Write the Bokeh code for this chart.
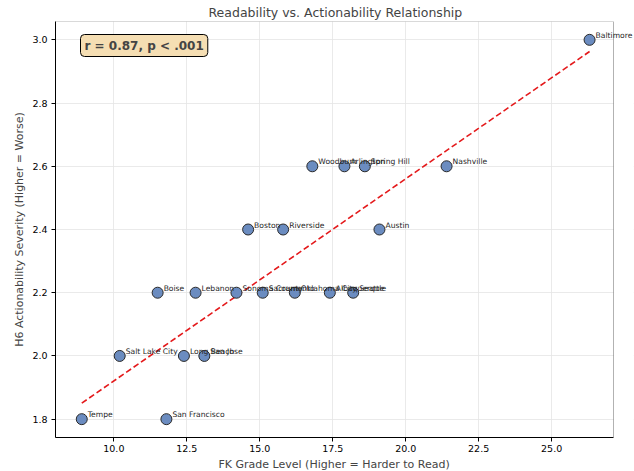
import numpy as np
from bokeh.plotting import figure
from bokeh.models import ColumnDataSource, Label, FixedTicker, Range1d, BoxAnnotation, Title
from bokeh.embed import file_html
from bokeh.resources import INLINE

cities = ["Tempe", "San Francisco", "Salt Lake City", "Boise", "Long Beach", "San Jose",
          "Lebanon", "Sonoma County", "Boston", "Sacramento", "Riverside", "Oklahoma City",
          "Woodburn", "Albuquerque", "Arlington", "Seattle", "Spring Hill", "Austin",
          "Nashville", "Baltimore"]
fk_grade = [8.9, 11.8, 10.2, 11.5, 12.4, 13.1,
            12.8, 14.2, 14.6, 15.1, 15.8, 16.2,
            16.8, 17.4, 17.9, 18.2, 18.6, 19.1,
            21.4, 26.3]
severity = [1.8, 1.8, 2.0, 2.2, 2.0, 2.0,
            2.2, 2.2, 2.4, 2.2, 2.4, 2.2,
            2.6, 2.2, 2.6, 2.2, 2.6, 2.4,
            2.6, 3.0]
x_ticks = [10.0, 12.5, 15.0, 17.5, 20.0, 22.5, 25.0]
y_ticks = [1.8, 2.0, 2.2, 2.4, 2.6, 2.8, 3.0]
stat_text = "r = 0.87, p < .001"
title_text = "Readability vs. Actionability Relationship"
x_label = "FK Grade Level (Higher = Harder to Read)"
y_label = "H6 Actionability Severity (Higher = Worse)"

FONT = "DejaVu Sans"

# visible axes box runs from X0 to X1; the plotting frame extends a little further
# right so that the last point's label is not clipped (as in the reference)
X0, X1 = 8.0, 27.12
BOX_PX, EXTRA_PX = 558, 20
X_END = X1 + (X1 - X0) * EXTRA_PX / BOX_PX

p = figure(width=634, height=471, output_backend="svg", toolbar_location=None,
           x_range=Range1d(X0, X_END), y_range=Range1d(1.742, 3.058),
           y_axis_label=y_label,
           min_border_left=55, min_border_right=1, min_border_top=0, min_border_bottom=0)

p.title.text = title_text
p.title.align = "left"
p.title.text_font = FONT
p.title.text_font_size = "12.5px"
p.title.text_font_style = "normal"
p.title.offset = 153
p.title.standoff = 4

xt = Title(text=x_label, align="left", offset=163, text_font=FONT,
           text_font_size="11px", text_font_style="normal", standoff=2)
p.add_layout(xt, "below")

for ax in (p.xaxis, p.yaxis):
    ax.axis_label_text_font = FONT
    ax.axis_label_text_font_size = "11px"
    ax.axis_label_text_font_style = "normal"
    ax.major_label_text_font = FONT
    ax.major_label_text_font_size = "9.5px"
    ax.major_label_text_color = "black"
    ax.axis_line_color = "black"
    ax.major_tick_line_color = "black"
    ax.major_tick_out = 4
    ax.major_tick_in = 0
    ax.minor_tick_line_color = None
p.xaxis.bounds = (X0, X1)
p.xaxis.major_label_standoff = 3
p.yaxis.major_label_standoff = 4
p.yaxis.axis_label_standoff = 3
p.xaxis.ticker = FixedTicker(ticks=x_ticks)
p.yaxis.ticker = FixedTicker(ticks=y_ticks)
p.xaxis.major_label_overrides = {t: f"{t:.1f}" for t in x_ticks}
p.yaxis.major_label_overrides = {t: f"{t:.1f}" for t in y_ticks}

p.outline_line_color = None
p.grid.grid_line_color = "#e4e4e4"
p.grid.grid_line_width = 0.8

# regression line
slope, intercept = np.polyfit(fk_grade, severity, 1)
xs = [min(fk_grade), max(fk_grade)]
ys = [slope * x + intercept for x in xs]
p.line(xs, ys, line_color="#e41a1c", line_width=1.6, line_dash="6 3")

src = ColumnDataSource(dict(x=fk_grade, y=severity, name=cities))
p.scatter("x", "y", source=src, size=11, fill_color="#6B8CC0", fill_alpha=1,
          line_color="#2a2a2a", line_width=1)

# white margin right of the axes box, then the box outline
p.add_layout(BoxAnnotation(left=X1, fill_color="white", fill_alpha=1, line_color=None))
p.add_layout(BoxAnnotation(right=X1, fill_alpha=0, line_color="black", line_width=1))

for cx, cy, name in zip(fk_grade, severity, cities):
    p.add_layout(Label(x=cx, y=cy, text=name, x_offset=6, y_offset=0,
                       text_font=FONT, text_font_size="7.6px", text_baseline="bottom",
                       text_color="#262626"))

lab = Label(x=25, y=392, x_units="screen", y_units="screen", text=stat_text,
            text_font=FONT, text_font_size="12px", text_font_style="bold",
            background_fill_color="wheat", background_fill_alpha=1,
            border_line_color="black", border_line_width=1,
            padding=4, border_radius=4, text_baseline="middle")
p.add_layout(lab)

open("out.html", "w").write(file_html(p, INLINE))
